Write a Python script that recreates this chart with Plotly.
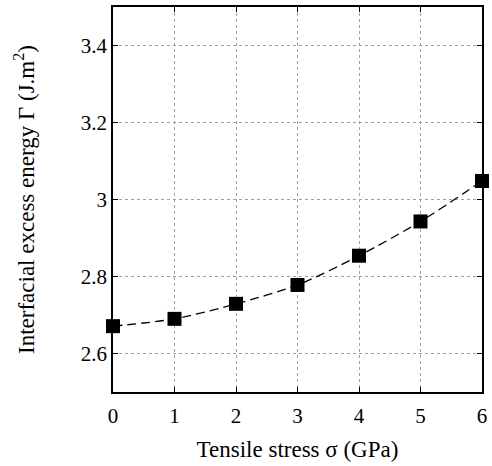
import plotly.graph_objects as go

stress = [0, 1, 2, 3, 4, 5, 6]
energy = [2.671, 2.690, 2.729, 2.778, 2.854, 2.943, 3.048]
x_ticks = [0, 1, 2, 3, 4, 5, 6]
y_ticks = [2.6, 2.8, 3.0, 3.2, 3.4]
y_tick_labels = ["2.6", "2.8", "3", "3.2", "3.4"]

font_family = "Liberation Serif, Times New Roman, serif"

fig = go.Figure()
fig.add_trace(go.Scatter(
    x=stress, y=energy, mode="lines",
    line=dict(color="black", width=1.3, dash="9px,5px", shape="spline", smoothing=0.8),
    showlegend=False, hoverinfo="skip"))
fig.add_trace(go.Scatter(
    x=stress, y=energy, mode="markers",
    marker=dict(symbol="square", size=14, color="black"),
    showlegend=False, cliponaxis=False))

axis_common = dict(
    showline=True, linecolor="black", linewidth=1.5, mirror="ticks",
    showgrid=True, gridcolor="#a0a0a0", gridwidth=1, griddash="dot",
    ticks="inside", ticklen=5, tickcolor="black", zeroline=False,
    tickfont=dict(family=font_family, size=21, color="black"),
)

fig.update_layout(
    width=492, height=466,
    margin=dict(l=113, r=10, t=5, b=74),
    paper_bgcolor="white", plot_bgcolor="white",
    font=dict(family=font_family, color="black"),
    xaxis=dict(range=[0, 6], tickvals=x_ticks, ticklabelstandoff=4,
               title=dict(text="Tensile stress σ (GPa)", font=dict(family=font_family, size=23), standoff=14),
               **axis_common),
    yaxis=dict(range=[2.5, 3.5], tickvals=y_ticks, ticktext=y_tick_labels,
               title=dict(text="Interfacial excess energy Γ (J.m<sup>2</sup>)", font=dict(family=font_family, size=23), standoff=40),
               **axis_common),
)

fig.write_html("out.html", config={"displayModeBar": False},
               post_script="document.body.style.margin='0';document.body.style.overflow='hidden';")
